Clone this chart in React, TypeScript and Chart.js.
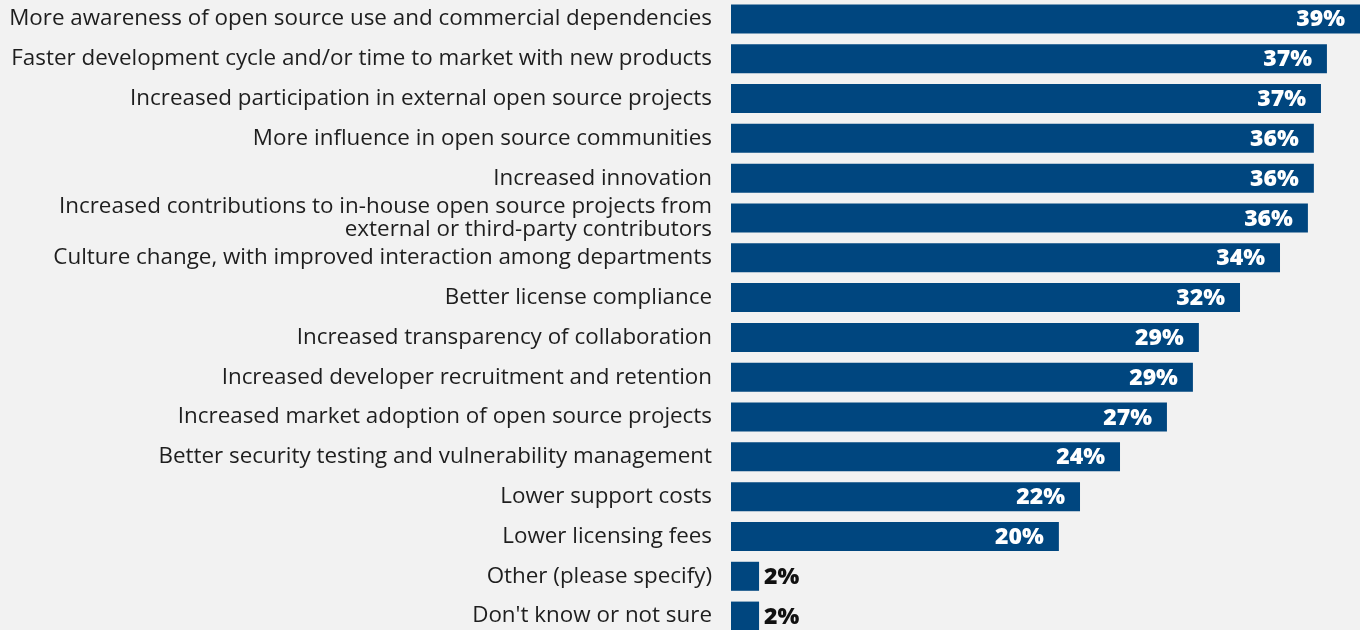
import React, { useEffect, useRef } from "react";
import { Chart, registerables } from "chart.js";

Chart.register(...registerables);

const categories: (string | string[])[] = [
  "More awareness of open source use and commercial dependencies",
  "Faster development cycle and/or time to market with new products",
  "Increased participation in external open source projects",
  "More influence in open source communities",
  "Increased innovation",
  ["Increased contributions to in-house open source projects from", "external or third-party contributors"],
  "Culture change, with improved interaction among departments",
  "Better license compliance",
  "Increased transparency of collaboration",
  "Increased developer recruitment and retention",
  "Increased market adoption of open source projects",
  "Better security testing and vulnerability management",
  "Lower support costs",
  "Lower licensing fees",
  "Other (please specify)",
  "Don't know or not sure",
];

const values: number[] = [
  39.0, 36.95, 36.58, 36.14, 36.14, 35.77, 34.04, 31.56, 29.01, 28.64, 27.03, 24.12, 21.64, 20.33, 1.74, 1.74,
];

const valueLabels: string[] = [
  "39%", "37%", "37%", "36%", "36%", "36%", "34%", "32%", "29%", "29%", "27%", "24%", "22%", "20%", "2%", "2%",
];

const FONT = "'Open Sans', Lato, sans-serif";

const valueLabelPlugin = {
  id: "valueLabels",
  afterDatasetsDraw(chart: any) {
    const ctx = chart.ctx;
    const meta = chart.getDatasetMeta(0);
    ctx.save();
    ctx.font = `800 23px ${FONT}`;
    ctx.textBaseline = "middle";
    meta.data.forEach((bar: any, i: number) => {
      const w = bar.x - bar.base;
      const txt = valueLabels[i];
      if (w > 60) {
        ctx.fillStyle = "#ffffff";
        ctx.textAlign = "right";
        ctx.fillText(txt, bar.x - 15, bar.y + 1);
      } else {
        ctx.fillStyle = "#111111";
        ctx.textAlign = "left";
        ctx.fillText(txt, bar.x + 5, bar.y + 1);
      }
    });
    ctx.restore();
  },
};

export default function App() {
  const ref = useRef<HTMLCanvasElement | null>(null);
  useEffect(() => {
    if (!ref.current) return;
    const chart = new Chart(ref.current, {
      type: "bar",
      data: {
        labels: categories,
        datasets: [
          {
            data: values,
            backgroundColor: "#00467F",
            barPercentage: 0.729,
            categoryPercentage: 1,
          },
        ],
      },
      options: {
        indexAxis: "y",
        animation: false,
        responsive: false,
        maintainAspectRatio: false,
        layout: { padding: 0 },
        plugins: { legend: { display: false }, tooltip: { enabled: false } },
        scales: {
          x: { display: false, min: 0, max: 39 },
          y: {
            afterFit: (scale: any) => {
              scale.width = 731;
              scale.paddingTop = 0;
              scale.paddingBottom = 0;
            },
            grid: { display: false, drawTicks: false },
            border: { display: false },
            ticks: {
              autoSkip: false,
              padding: 19,
              color: "#1e1e1e",
              font: { family: FONT, size: 22.4, lineHeight: 1.02 },
            },
          },
        },
      },
      plugins: [valueLabelPlugin],
    });
    return () => chart.destroy();
  }, []);
  return (
    <div style={{ position: "absolute", left: 0, top: 0, width: 1360, height: 630, background: "#f2f2f2", overflow: "hidden" }}>
      <canvas ref={ref} width={1360} height={637} style={{ position: "absolute", left: 0, top: -1 }} />
    </div>
  );
}
